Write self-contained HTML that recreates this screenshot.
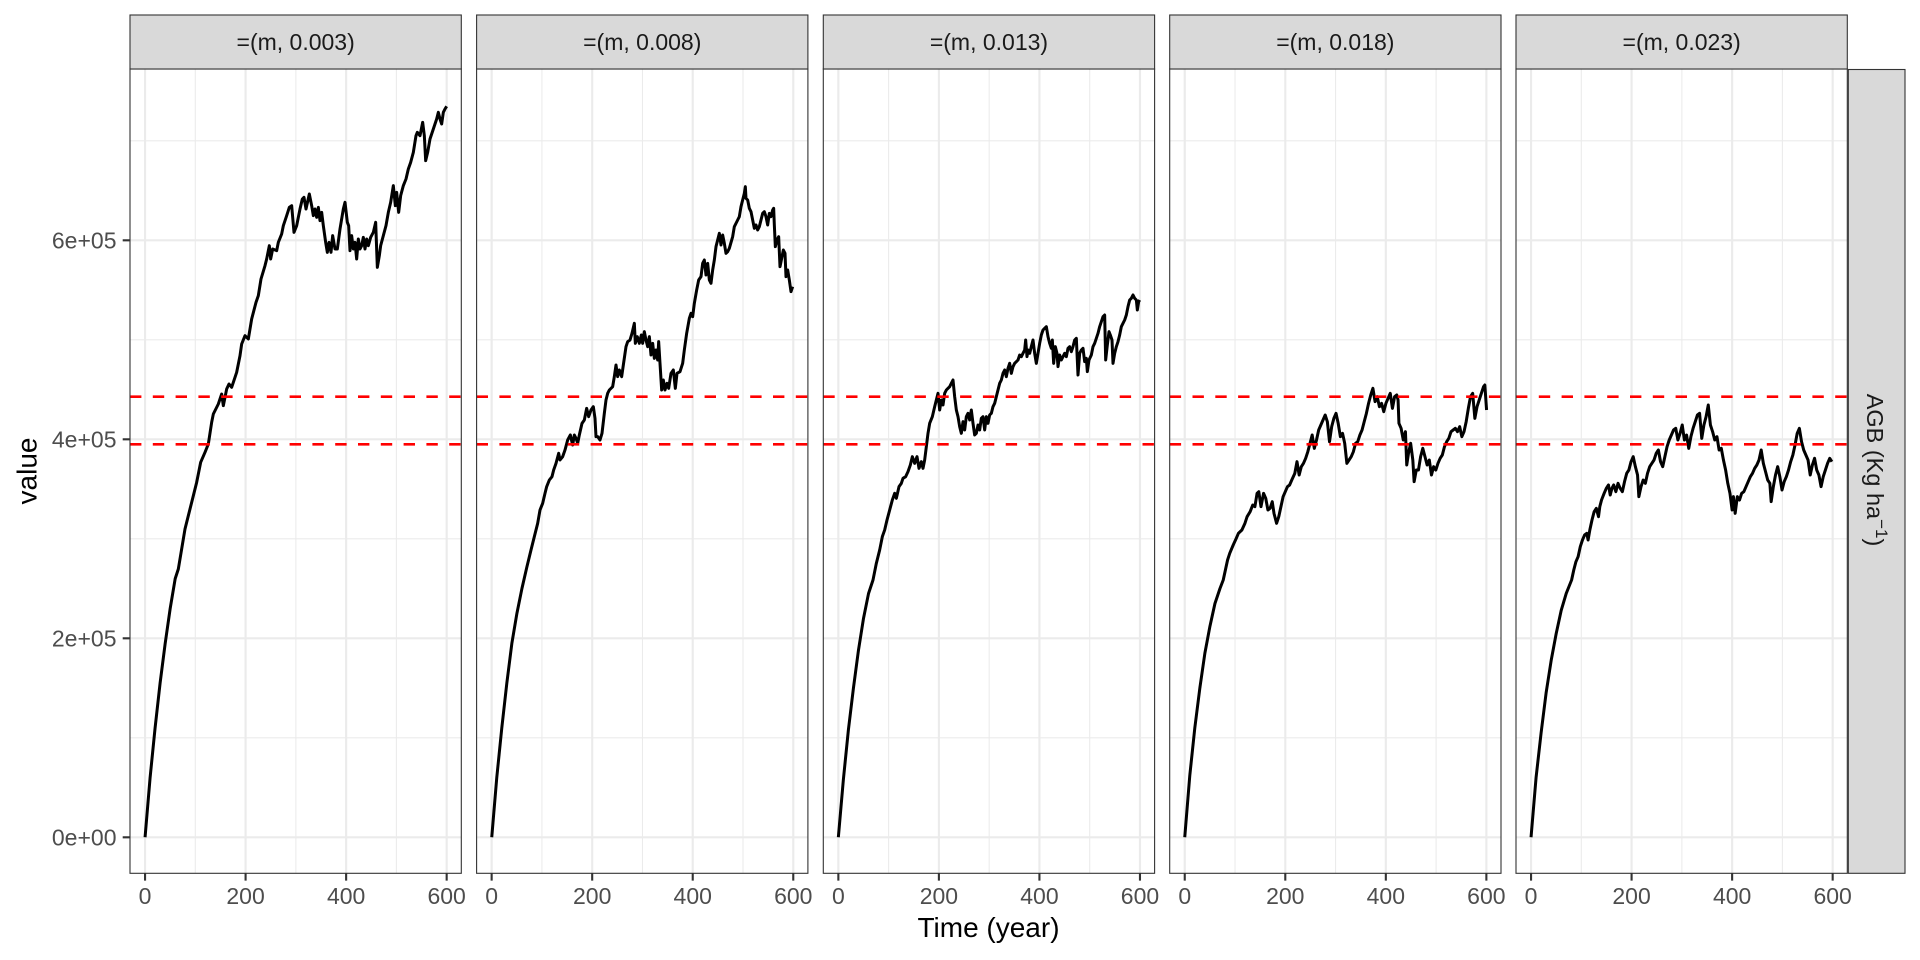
<!DOCTYPE html>
<html>
<head>
<meta charset="utf-8">
<style>
html,body{margin:0;padding:0;background:#fff;}
svg{display:block;}
text{font-family:"Liberation Sans",Arial,sans-serif;}
</style>
</head>
<body>
<svg xmlns="http://www.w3.org/2000/svg" width="1920" height="960" viewBox="0 0 1920 960">
<rect x="0" y="0" width="1920" height="960" fill="#ffffff"/>
<defs>
<clipPath id="c1"><rect x="130" y="69" width="331.3" height="804.3"/></clipPath>
<clipPath id="c2"><rect x="476.6" y="69" width="331.3" height="804.3"/></clipPath>
<clipPath id="c3"><rect x="823.3" y="69" width="331.3" height="804.3"/></clipPath>
<clipPath id="c4"><rect x="1169.7" y="69" width="331.3" height="804.3"/></clipPath>
<clipPath id="c5"><rect x="1516" y="69" width="331.3" height="804.3"/></clipPath>
</defs>

<!-- panel backgrounds -->
<g fill="#ffffff">
<rect x="130" y="69" width="331.3" height="804.3"/>
<rect x="476.6" y="69" width="331.3" height="804.3"/>
<rect x="823.3" y="69" width="331.3" height="804.3"/>
<rect x="1169.7" y="69" width="331.3" height="804.3"/>
<rect x="1516" y="69" width="331.3" height="804.3"/>
</g>

<!-- minor grid -->
<g stroke="#EBEBEB" stroke-width="1.07" fill="none">
<path d="M130 140.8H461.3M130 339.8H461.3M130 538.8H461.3M130 737.8H461.3 M195.32 69V873.3M295.86 69V873.3M396.4 69V873.3"/>
<path d="M476.6 140.8H807.9M476.6 339.8H807.9M476.6 538.8H807.9M476.6 737.8H807.9 M541.92 69V873.3M642.46 69V873.3M743.0 69V873.3"/>
<path d="M823.3 140.8H1154.6M823.3 339.8H1154.6M823.3 538.8H1154.6M823.3 737.8H1154.6 M888.62 69V873.3M989.16 69V873.3M1089.7 69V873.3"/>
<path d="M1169.7 140.8H1501M1169.7 339.8H1501M1169.7 538.8H1501M1169.7 737.8H1501 M1235.02 69V873.3M1335.56 69V873.3M1436.1 69V873.3"/>
<path d="M1516 140.8H1847.3M1516 339.8H1847.3M1516 538.8H1847.3M1516 737.8H1847.3 M1581.32 69V873.3M1681.86 69V873.3M1782.4 69V873.3"/>
</g>
<!-- major grid -->
<g stroke="#EBEBEB" stroke-width="2.13" fill="none">
<path d="M130 240.3H461.3M130 439.3H461.3M130 638.3H461.3M130 837.3H461.3 M145.05 69V873.3M245.59 69V873.3M346.13 69V873.3M446.67 69V873.3"/>
<path d="M476.6 240.3H807.9M476.6 439.3H807.9M476.6 638.3H807.9M476.6 837.3H807.9 M491.65 69V873.3M592.19 69V873.3M692.73 69V873.3M793.27 69V873.3"/>
<path d="M823.3 240.3H1154.6M823.3 439.3H1154.6M823.3 638.3H1154.6M823.3 837.3H1154.6 M838.35 69V873.3M938.89 69V873.3M1039.43 69V873.3M1139.97 69V873.3"/>
<path d="M1169.7 240.3H1501M1169.7 439.3H1501M1169.7 638.3H1501M1169.7 837.3H1501 M1184.75 69V873.3M1285.29 69V873.3M1385.83 69V873.3M1486.37 69V873.3"/>
<path d="M1516 240.3H1847.3M1516 439.3H1847.3M1516 638.3H1847.3M1516 837.3H1847.3 M1531.05 69V873.3M1631.59 69V873.3M1732.13 69V873.3M1832.67 69V873.3"/>
</g>

<!-- data lines -->
<g fill="none" stroke="#000000" stroke-width="3.0" stroke-linejoin="round" stroke-linecap="butt">
<g clip-path="url(#c1)">
<polyline vector-effect="non-scaling-stroke" transform="translate(130,69) scale(0.333333)" points="45.2,2304.9 60.3,2125.8 75.3,1976.4 90.3,1842.3 105.6,1722.9 120.6,1618.2 135.6,1528.8 145,1500 165,1380 185,1300 200,1240 212,1180 225,1150 235,1125 245,1060 250,1035 265,1005 275,975 280,1010 290,960 297,945 305,955 320,910 330,860 335,825 345,800 355,810 365,750 378,700 385,680 393,630 405,590 410,570 418,530 422,570 428,540 440,545 445,520 455,495 460,470 470,440 478,415 485,410 492,490 500,470 510,420 517,390 522,385 528,420 538,375 545,410 550,440 555,420 560,445 565,415 570,455 575,430 580,470 587,520 592,550 597,520 603,550 608,500 615,540 622,540 630,480 640,420 645,400 652,460 656,470 660,545 665,500 670,540 675,520 680,570 685,510 690,540 695,530 700,505 705,540 710,510 715,530 722,505 730,490 737,460 742,595 748,560 752,530 760,500 768,470 775,430 782,400 790,350 796,410 800,370 806,430 812,380 820,350 828,330 835,300 842,280 850,250 858,200 862,190 870,200 878,160 883,200 887,275 893,250 900,210 910,180 920,150 925,130 930,150 935,165 940,130 945,120 950,112"/>
</g>
<g clip-path="url(#c2)">
<polyline vector-effect="non-scaling-stroke" transform="translate(476,150) scale(0.333333)" points="47.25,2061.9 62.3,1882.8 77.4,1733.6 92.5,1599.3 107.6,1479.9 122.7,1390.2 137.8,1315.5 152.8,1250.1 165,1200 175,1160 185,1120 192,1080 200,1060 207,1030 212,1010 220,990 228,980 233,960 240,940 248,910 252,930 260,920 267,900 275,870 283,855 290,885 295,855 300,865 305,880 310,855 318,820 325,810 332,775 338,800 345,780 352,770 357,805 360,860 365,860 372,870 378,850 385,790 390,750 395,730 400,720 410,710 415,680 420,645 425,680 430,660 437,680 442,645 450,590 455,575 462,570 468,550 475,520 478,580 484,560 490,580 496,555 500,580 505,545 510,570 515,590 520,560 525,615 530,580 535,625 540,600 545,630 548,575 552,640 557,720 562,690 567,720 573,700 578,715 585,670 592,660 598,715 603,670 612,665 620,640 625,600 632,550 640,505 645,490 650,500 655,460 662,420 668,390 675,380 680,340 685,330 690,375 695,340 700,390 705,400 710,360 715,330 720,290 725,270 730,250 735,285 740,255 745,280 750,310 755,305 760,295 770,260 775,230 785,210 790,200 795,170 800,150 805,130 808,110 810,145 815,150 820,175 825,185 830,210 835,235 840,225 845,240 850,230 855,210 860,190 865,185 870,200 875,225 880,190 885,200 890,180 893,175 895,225 898,290 903,270 908,260 912,350 918,320 922,300 927,310 930,380 935,360 940,390 945,425 950,410"/>
</g>
<g clip-path="url(#c3)">
<polyline vector-effect="non-scaling-stroke" transform="translate(823,220) scale(0.333333)" points="46.05,1851.9 61.1,1678.8 76.2,1529.4 91.3,1404.2 106.4,1290.7 121.5,1195.2 136.6,1120.5 150,1080 160,1030 170,990 178,950 185,930 192,900 200,870 208,840 215,820 220,835 228,800 235,790 240,775 248,770 255,755 262,735 268,710 275,730 282,710 288,745 295,725 300,745 305,720 310,680 315,640 320,610 328,590 335,560 340,540 345,520 350,570 355,540 360,555 365,520 370,510 375,505 380,500 385,490 390,480 395,530 400,570 405,590 410,620 415,640 420,605 425,630 430,590 435,580 440,600 445,570 450,610 455,645 460,640 465,615 470,630 475,595 480,590 485,630 490,590 495,610 500,585 505,580 510,560 515,550 520,530 525,510 530,490 535,480 540,460 545,450 550,470 555,445 560,430 565,460 570,440 575,430 580,425 585,420 590,405 595,410 600,400 605,390 608,360 612,410 615,390 620,400 625,380 630,360 635,400 640,430 645,400 650,370 655,345 660,330 665,325 670,320 675,350 680,370 685,385 688,360 692,430 697,380 702,400 705,440 710,405 715,420 720,410 725,400 730,410 735,385 740,380 745,395 750,380 755,360 760,355 765,465 770,400 775,390 780,385 785,425 790,415 793,455 798,420 805,405 810,380 815,370 820,355 825,340 830,320 835,305 840,290 845,285 848,420 853,375 858,335 862,345 867,360 870,430 875,400 880,380 885,365 890,345 895,320 900,310 905,300 910,285 915,260 920,240 925,235 930,225 935,235 940,240 943,270 947,245 950,240"/>
</g>
<g clip-path="url(#c4)">
<polyline vector-effect="non-scaling-stroke" transform="translate(1169,360) scale(0.43384,0.333333)" points="36.3,1431.9 47.9,1246.8 59.5,1103.6 71.1,984.2 82.7,879.6 94.3,799.2 105.9,730.5 117.5,685.5 125,660 130,630 135,600 140,580 148,555 155,535 160,520 168,510 175,490 180,470 187,455 193,435 198,440 203,400 207,395 212,440 218,400 223,415 228,450 233,445 238,425 242,460 248,490 253,470 258,440 263,410 268,395 273,380 278,375 283,360 290,340 295,305 300,345 305,320 310,310 315,295 320,275 325,250 330,225 335,265 340,240 345,210 350,195 355,180 360,165 365,185 370,245 375,200 380,175 385,160 390,190 395,230 400,220 405,250 410,310 415,300 420,290 425,275 430,250 435,245 440,225 445,210 450,185 455,160 460,130 465,105 470,85 475,125 480,110 485,140 490,130 495,155 500,130 505,115 510,100 515,145 520,110 525,105 528,120 530,190 535,205 540,240 545,215 548,315 552,280 557,250 562,300 565,365 570,330 575,330 580,290 585,265 590,290 595,315 600,300 605,345 610,320 615,330 620,310 625,295 630,285 635,260 640,245 645,235 650,215 655,210 660,205 665,215 670,200 675,230 680,215 685,185 690,145 695,110 700,100 705,175 710,140 715,120 720,100 725,80 728,75 732,150"/>
</g>
<g clip-path="url(#c5)">
<polyline vector-effect="non-scaling-stroke" transform="translate(1169,360) scale(0.43384,0.333333)" points="834.5,1431.9 846.1,1252.8 857.7,1118.6 869.2,999.1 881.0,900.6 892.6,819.9 904.0,751.2 915.6,700.2 928,660 933,630 938,605 943,590 948,560 953,540 958,525 963,520 966,540 970,510 975,480 980,455 985,445 990,470 993,440 997,420 1003,400 1008,385 1013,375 1017,405 1021,385 1025,375 1030,395 1035,370 1040,385 1045,395 1050,365 1055,340 1060,330 1065,305 1070,290 1075,320 1080,345 1083,410 1088,380 1093,360 1098,370 1103,340 1108,320 1113,310 1118,300 1123,280 1128,270 1133,305 1138,320 1143,290 1148,260 1153,240 1158,225 1163,210 1168,205 1173,240 1178,220 1183,195 1188,240 1193,225 1198,265 1203,230 1208,205 1213,185 1218,165 1223,160 1228,235 1233,195 1238,170 1243,135 1248,195 1253,215 1258,240 1263,230 1268,270 1273,265 1278,300 1283,330 1288,370 1293,400 1298,450 1301,410 1305,460 1310,410 1315,420 1320,400 1325,395 1330,380 1335,365 1340,350 1345,340 1350,325 1355,315 1360,300 1365,270 1370,310 1375,335 1380,360 1385,370 1388,425 1393,380 1398,345 1403,320 1408,350 1413,390 1418,365 1423,350 1428,330 1433,305 1438,285 1443,255 1448,220 1453,205 1458,245 1463,270 1468,285 1473,300 1478,345 1483,315 1488,295 1493,330 1498,345 1503,380 1508,350 1513,330 1518,310 1523,295 1528,305"/>
</g>
</g>

<!-- red dashed reference lines -->
<g stroke="#FF0000" stroke-width="2.7" stroke-dasharray="11.4,11.4" fill="none">
<path d="M130 396.7H461.3M130 444.3H461.3"/>
<path d="M476.6 396.7H807.9M476.6 444.3H807.9"/>
<path d="M823.3 396.7H1154.6M823.3 444.3H1154.6"/>
<path d="M1169.7 396.7H1501M1169.7 444.3H1501"/>
<path d="M1516 396.7H1847.3M1516 444.3H1847.3"/>
</g>

<!-- panel borders -->
<g fill="none" stroke="#333333" stroke-width="1.1">
<rect x="130" y="69" width="331.3" height="804.3"/>
<rect x="476.6" y="69" width="331.3" height="804.3"/>
<rect x="823.3" y="69" width="331.3" height="804.3"/>
<rect x="1169.7" y="69" width="331.3" height="804.3"/>
<rect x="1516" y="69" width="331.3" height="804.3"/>
</g>

<!-- strips -->
<g fill="#D9D9D9" stroke="#333333" stroke-width="1.1">
<rect x="130" y="15" width="331.3" height="54"/>
<rect x="476.6" y="15" width="331.3" height="54"/>
<rect x="823.3" y="15" width="331.3" height="54"/>
<rect x="1169.7" y="15" width="331.3" height="54"/>
<rect x="1516" y="15" width="331.3" height="54"/>
<rect x="1848.3" y="69.5" width="56.7" height="803.8"/>
</g>
<g font-size="23" fill="#1A1A1A" text-anchor="middle">
<text x="295.65" y="50">=(m, 0.003)</text>
<text x="642.25" y="50">=(m, 0.008)</text>
<text x="988.95" y="50">=(m, 0.013)</text>
<text x="1335.35" y="50">=(m, 0.018)</text>
<text x="1681.65" y="50">=(m, 0.023)</text>
</g>
<text transform="translate(1867,470) rotate(90)" font-size="23.5" fill="#1A1A1A" text-anchor="middle">AGB (Kg ha<tspan font-size="17" dy="-9">−1</tspan><tspan dy="9">)</tspan></text>

<!-- y axis ticks -->
<g stroke="#333333" stroke-width="2.1">
<path d="M122.7 837.3H130M122.7 638.3H130M122.7 439.3H130M122.7 240.3H130"/>
</g>
<g font-size="23" fill="#4D4D4D" text-anchor="end">
<text x="116.5" y="845.5">0e+00</text>
<text x="116.5" y="646.5">2e+05</text>
<text x="116.5" y="447.5">4e+05</text>
<text x="116.5" y="248.5">6e+05</text>
</g>

<!-- x axis ticks -->
<g stroke="#333333" stroke-width="2.1">
<path d="M145.05 873.3V880.6M245.59 873.3V880.6M346.13 873.3V880.6M446.67 873.3V880.6"/>
<path d="M491.65 873.3V880.6M592.19 873.3V880.6M692.73 873.3V880.6M793.27 873.3V880.6"/>
<path d="M838.35 873.3V880.6M938.89 873.3V880.6M1039.43 873.3V880.6M1139.97 873.3V880.6"/>
<path d="M1184.75 873.3V880.6M1285.29 873.3V880.6M1385.83 873.3V880.6M1486.37 873.3V880.6"/>
<path d="M1531.05 873.3V880.6M1631.59 873.3V880.6M1732.13 873.3V880.6M1832.67 873.3V880.6"/>
</g>
<g font-size="23" fill="#4D4D4D" text-anchor="middle">
<text x="145.05" y="904">0</text><text x="245.59" y="904">200</text><text x="346.13" y="904">400</text><text x="446.67" y="904">600</text>
<text x="491.65" y="904">0</text><text x="592.19" y="904">200</text><text x="692.73" y="904">400</text><text x="793.27" y="904">600</text>
<text x="838.35" y="904">0</text><text x="938.89" y="904">200</text><text x="1039.43" y="904">400</text><text x="1139.97" y="904">600</text>
<text x="1184.75" y="904">0</text><text x="1285.29" y="904">200</text><text x="1385.83" y="904">400</text><text x="1486.37" y="904">600</text>
<text x="1531.05" y="904">0</text><text x="1631.59" y="904">200</text><text x="1732.13" y="904">400</text><text x="1832.67" y="904">600</text>
</g>

<!-- axis titles -->
<text x="988.5" y="937" font-size="28" fill="#000000" text-anchor="middle">Time (year)</text>
<text transform="translate(36.7,471) rotate(-90)" font-size="28" fill="#000000" text-anchor="middle">value</text>
</svg>
</body>
</html>
